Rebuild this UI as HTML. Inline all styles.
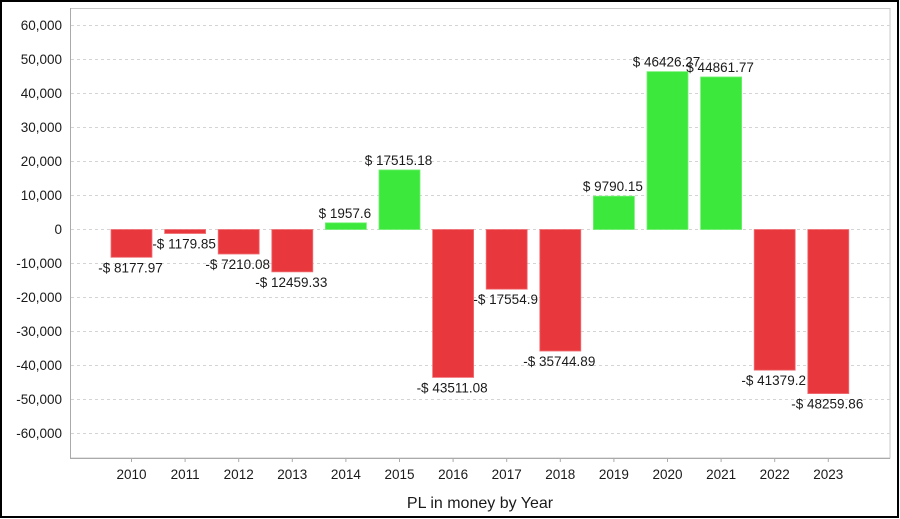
<!DOCTYPE html>
<html><head><meta charset="utf-8"><style>
html,body{margin:0;padding:0;background:#fff}
svg{display:block}
text{font-family:"Liberation Sans",Arial,sans-serif;fill:#1a1a1a}
</style></head><body>
<svg width="900" height="519" viewBox="0 0 900 519" xmlns="http://www.w3.org/2000/svg">
<rect x="1" y="1" width="897" height="516" fill="#fff" stroke="#000" stroke-width="2"/>
<rect x="70.5" y="8.5" width="819.5" height="449.5" fill="#fff" stroke="#c8c8c8" stroke-width="1"/>
<g stroke="#d4d4d4" stroke-dasharray="3,3" stroke-width="1">
<line x1="71" x2="890" y1="25.5" y2="25.5"/>
<line x1="71" x2="890" y1="59.5" y2="59.5"/>
<line x1="71" x2="890" y1="93.5" y2="93.5"/>
<line x1="71" x2="890" y1="127.5" y2="127.5"/>
<line x1="71" x2="890" y1="161.5" y2="161.5"/>
<line x1="71" x2="890" y1="195.5" y2="195.5"/>
<line x1="71" x2="890" y1="229.5" y2="229.5"/>
<line x1="71" x2="890" y1="263.5" y2="263.5"/>
<line x1="71" x2="890" y1="297.5" y2="297.5"/>
<line x1="71" x2="890" y1="331.5" y2="331.5"/>
<line x1="71" x2="890" y1="365.5" y2="365.5"/>
<line x1="71" x2="890" y1="399.5" y2="399.5"/>
<line x1="71" x2="890" y1="433.5" y2="433.5"/>
</g>
<line x1="70.5" x2="70.5" y1="8" y2="458" stroke="#aaa"/>
<line x1="70" x2="890" y1="458.5" y2="458.5" stroke="#aaa"/>
<g font-size="13.5" text-anchor="end">
<text x="62" y="30">60,000</text><text x="62" y="64">50,000</text><text x="62" y="98">40,000</text>
<text x="62" y="132">30,000</text><text x="62" y="166">20,000</text><text x="62" y="200">10,000</text>
<text x="62" y="234">0</text><text x="62" y="268">-10,000</text><text x="62" y="302">-20,000</text>
<text x="62" y="336">-30,000</text><text x="62" y="370">-40,000</text><text x="62" y="404">-50,000</text>
<text x="62" y="438">-60,000</text>
</g>
<g id="bars"></g>
<g id="labels" font-size="13.5" text-anchor="middle"></g>
<g id="xl" font-size="13.5" text-anchor="middle"></g>
<text x="480" y="508" font-size="16" text-anchor="middle">PL in money by Year</text>
<script>
var vals=[-8177.97,-1179.85,-7210.08,-12459.33,1957.6,17515.18,-43511.08,-17554.9,-35744.89,9790.15,46426.27,44861.77,-41379.2,-48259.86];
var ns="http://www.w3.org/2000/svg";
function y(v){return 229.5-v*0.0034;}
var b=document.getElementById("bars"),l=document.getElementById("labels"),xl=document.getElementById("xl");
vals.forEach(function(v,i){
 var cx=131.5+i*53.6;
 var r=document.createElementNS(ns,"rect");
 var y0=y(0),y1=y(v);
 r.setAttribute("x",cx-20.5);r.setAttribute("width",41);
 r.setAttribute("y",Math.min(y0,y1));r.setAttribute("height",Math.max(1,Math.abs(y1-y0)));
 r.setAttribute("fill",v<0?"#e8383d":"#3ce83c");
 r.setAttribute("stroke",v<0?"#f07075":"#70f070");r.setAttribute("stroke-width","0.8");
 b.appendChild(r);
 var t=document.createElementNS(ns,"text");
 t.setAttribute("x",cx-1);
 t.setAttribute("y",v<0?y1+15:y1-5);
 t.textContent=(v<0?"-$ ":"$ ")+Math.abs(v);
 l.appendChild(t);
 var k=document.createElementNS(ns,"line");
 k.setAttribute("x1",cx);k.setAttribute("x2",cx);k.setAttribute("y1",458);k.setAttribute("y2",462);k.setAttribute("stroke","#aaa");
 b.appendChild(k);
 var u=document.createElementNS(ns,"text");
 u.setAttribute("x",cx);u.setAttribute("y",479);u.textContent=2010+i;xl.appendChild(u);
});
</script>
</svg>
</body></html>
